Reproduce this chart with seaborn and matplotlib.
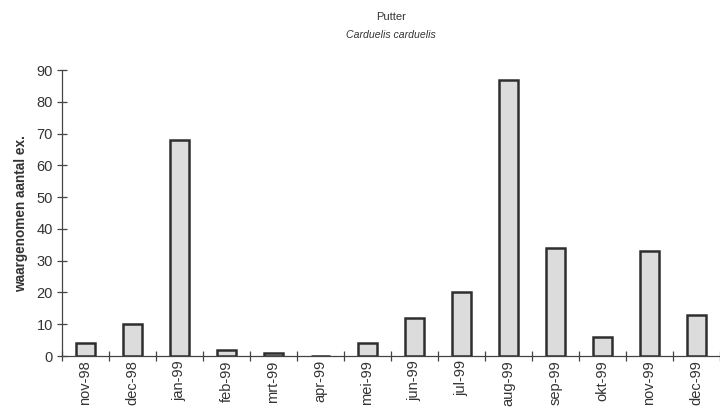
import matplotlib
matplotlib.use("Agg")
import matplotlib.pyplot as plt
import seaborn as sns
import pandas as pd
import numpy as np

# Monthly counts of goldfinches
months = ["nov-98", "dec-98", "jan-99", "feb-99", "mrt-99", "apr-99", "mei-99",
          "jun-99", "jul-99", "aug-99", "sep-99", "okt-99", "nov-99", "dec-99"]
counts = [4, 10, 68, 2, 1, 0, 4, 12, 20, 87, 34, 6, 33, 13]
y_ticks = [0, 10, 20, 30, 40, 50, 60, 70, 80, 90]

sns.set_theme(style="white")
plt.rcParams["font.family"] = ["Liberation Sans", "DejaVu Sans"]

df = pd.DataFrame({"maand": months, "aantal": counts})

fig = plt.figure(figsize=(7.2, 4.13), dpi=100)
ax = fig.add_axes([0.086, 0.138, 0.914, 0.692])

sns.barplot(data=df, x="maand", y="aantal", order=months, color="#dcdcdc",
            saturation=1, width=0.41, edgecolor="#2e2e2e", linewidth=1.8, ax=ax)

ax.set_xlim(-0.5, len(months) - 0.5)
ax.set_ylim(0, 90)
ax.set_yticks(y_ticks)
ax.set_yticklabels([str(v) for v in y_ticks], fontsize=10.5, color="#333333")
ax.set_xticks(range(len(months)))
ax.set_xticklabels(months, rotation=90, fontsize=10.5, color="#333333")
ax.set_xticks(np.arange(-0.5, len(months), 1.0), minor=True)

ax.tick_params(axis="x", which="major", length=0, pad=3)
ax.tick_params(axis="x", which="minor", direction="inout", length=7,
               width=0.9, color="#444444", bottom=True)
ax.tick_params(axis="y", which="major", direction="inout", length=7,
               width=0.9, color="#444444", left=True, pad=3)

for side in ["top", "right"]:
    ax.spines[side].set_visible(False)
for side in ["left", "bottom"]:
    ax.spines[side].set_color("#444444")
    ax.spines[side].set_linewidth(0.9)
ax.spines["bottom"].set_zorder(5)

ax.set_xlabel("")
ax.set_ylabel("waargenomen aantal ex.", fontsize=9.8, fontweight="bold",
              color="#333333", labelpad=6)

fig.text(0.543, 0.958, "Putter", ha="center", va="center", fontsize=8,
         color="#333333")
fig.text(0.543, 0.915, "Carduelis carduelis", ha="center", va="center",
         fontsize=7.6, style="italic", color="#333333")

fig.savefig("out.png", dpi=100)
